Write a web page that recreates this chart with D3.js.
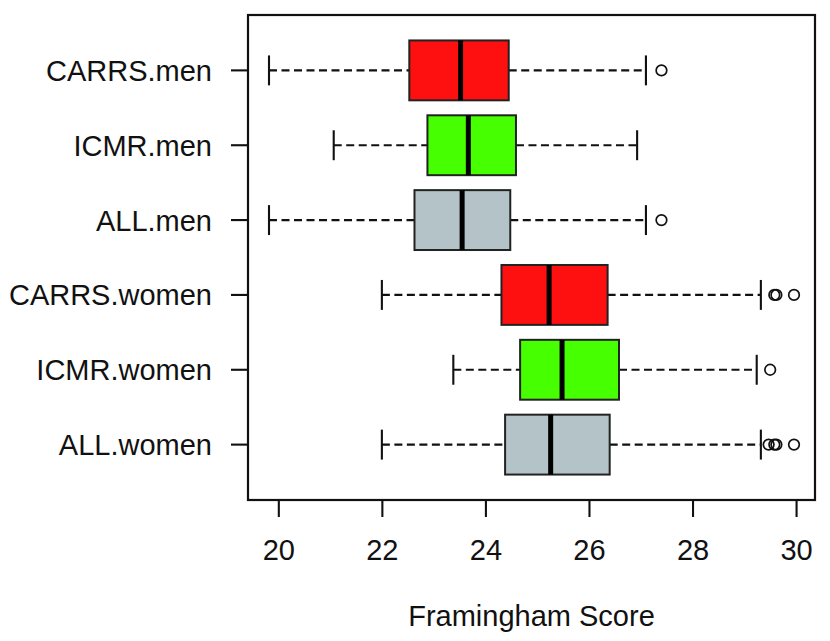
<!DOCTYPE html>
<html><head><meta charset="utf-8">
<script src="https://cdn.jsdelivr.net/npm/d3@7/dist/d3.min.js"></script>
<style>body{margin:0;background:#fff;} text{font-family:"Liberation Sans",Arial,sans-serif;}</style>
</head><body><svg id="c" width="830" height="641"></svg>
<script>
const categories = ["CARRS.men","ICMR.men","ALL.men","CARRS.women","ICMR.women","ALL.women"];
const whiskerLow  = [19.82, 21.07, 19.82, 22.00, 23.38, 22.00];
const q1          = [22.53, 22.88, 22.63, 24.31, 24.67, 24.38];
const medians     = [23.52, 23.67, 23.55, 25.23, 25.48, 25.26];
const q3          = [24.45, 24.59, 24.48, 26.36, 26.58, 26.40];
const whiskerHigh = [27.10, 26.93, 27.10, 29.32, 29.24, 29.32];
const outliers    = [[27.40], [], [27.40], [29.58, 29.62, 29.96], [29.50], [29.47, 29.58, 29.62, 29.96]];
const fills       = ["#FF1010", "#46FF00", "#B3C3C7", "#FF1010", "#46FF00", "#B3C3C7"];
const xTicks      = [20, 22, 24, 26, 28, 30];
const xTitle      = "Framingham Score";

const svg = d3.select("#c");
const L = 248, R = 815, T = 15, B = 500;
const FS = 29;

const allVals = whiskerLow.concat(whiskerHigh, outliers.flat());
const lo = d3.min(allVals), hi = d3.max(allVals), ext = (hi - lo) * 0.04;
const x = d3.scaleLinear().domain([lo - ext, hi + ext]).range([L, R]);
const unit = (B - T) / 6.48;
const y = d3.scaleBand().domain(categories)
  .range([T + 0.24 * unit, B - 0.24 * unit]).paddingInner(0.2).paddingOuter(0.1);
const bw = y.bandwidth();

const data = categories.map((c, i) => ({c, lo: whiskerLow[i], q1: q1[i], med: medians[i], q3: q3[i], hi: whiskerHigh[i], out: outliers[i], fill: fills[i]}));

const g = svg.append("g");
const grp = g.selectAll("g.box").data(data).join("g");
const cy = d => y(d.c) + bw / 2;
const LW = 2.1;

// whiskers dashed
grp.append("line").attr("x1", d => x(d.lo)).attr("x2", d => x(d.q1))
  .attr("y1", cy).attr("y2", cy).attr("stroke", "#111").attr("stroke-width", LW).attr("stroke-dasharray", "8,4.5");
grp.append("line").attr("x1", d => x(d.q3)).attr("x2", d => x(d.hi))
  .attr("y1", cy).attr("y2", cy).attr("stroke", "#111").attr("stroke-width", LW).attr("stroke-dasharray", "8,4.5");
// staples
grp.append("line").attr("x1", d => x(d.lo)).attr("x2", d => x(d.lo))
  .attr("y1", d => cy(d) - bw / 4).attr("y2", d => cy(d) + bw / 4).attr("stroke", "#111").attr("stroke-width", LW);
grp.append("line").attr("x1", d => x(d.hi)).attr("x2", d => x(d.hi))
  .attr("y1", d => cy(d) - bw / 4).attr("y2", d => cy(d) + bw / 4).attr("stroke", "#111").attr("stroke-width", LW);
// box
grp.append("rect").attr("x", d => x(d.q1)).attr("width", d => x(d.q3) - x(d.q1))
  .attr("y", d => y(d.c)).attr("height", bw).attr("fill", d => d.fill).attr("stroke", "#222").attr("stroke-width", 2);
// median
grp.append("line").attr("x1", d => x(d.med)).attr("x2", d => x(d.med))
  .attr("y1", d => y(d.c)).attr("y2", d => y(d.c) + bw).attr("stroke", "#000").attr("stroke-width", 5);
// outliers
grp.each(function(d) {
  d3.select(this).selectAll("circle").data(d.out).join("circle")
    .attr("cx", v => x(v)).attr("cy", cy(d)).attr("r", 5.3)
    .attr("fill", "none").attr("stroke", "#111").attr("stroke-width", 1.7);
});

// frame
svg.append("rect").attr("x", L).attr("y", T).attr("width", R - L).attr("height", B - T)
  .attr("fill", "none").attr("stroke", "#111").attr("stroke-width", 2.2);

// axes
const xa = svg.append("g").attr("transform", `translate(0,${B})`)
  .call(d3.axisBottom(x).tickValues(xTicks).tickSize(17).tickPadding(22).tickFormat(d3.format("d")));
xa.select(".domain").remove();
xa.selectAll("line").attr("stroke", "#111").attr("stroke-width", LW);
xa.selectAll("text").attr("font-size", FS).attr("fill", "#111").style("font-family", "'Liberation Sans',Arial,sans-serif");

const ya = svg.append("g").attr("transform", `translate(${L},0)`)
  .call(d3.axisLeft(y).tickSize(17).tickPadding(19));
ya.select(".domain").remove();
ya.selectAll("line").attr("stroke", "#111").attr("stroke-width", LW);
ya.selectAll("text").attr("font-size", FS).attr("fill", "#111").attr("dy", "0.36em").style("font-family", "'Liberation Sans',Arial,sans-serif");

svg.append("text").attr("x", (L + R) / 2).attr("y", 626).attr("text-anchor", "middle")
  .attr("font-size", FS).attr("fill", "#111").text(xTitle);
</script></body></html>
